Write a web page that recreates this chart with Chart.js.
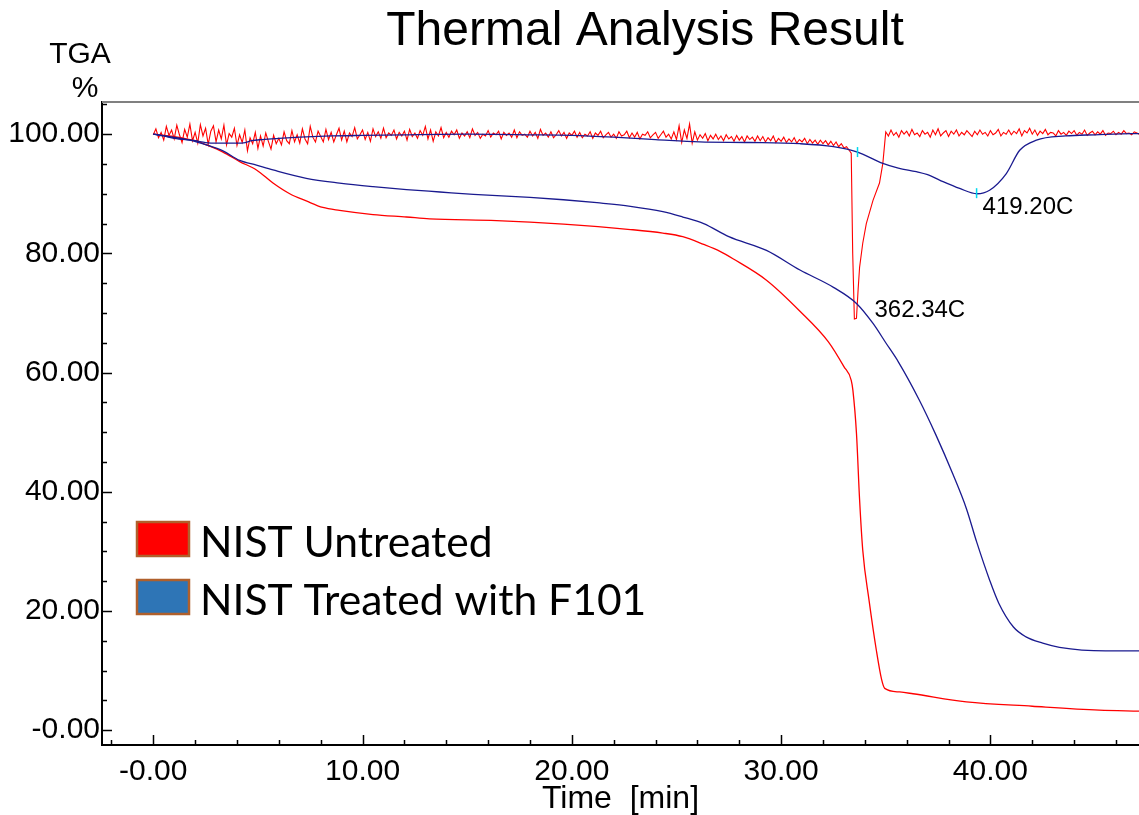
<!DOCTYPE html>
<html><head><meta charset="utf-8">
<script src="https://cdn.jsdelivr.net/npm/chart.js@4.4.1/dist/chart.umd.min.js"></script>
<style>html,body{margin:0;padding:0;background:#fff;}canvas{display:block;}</style>
</head><body>
<canvas id="c" width="1139" height="815"></canvas>
<script>
// ---- data (time in min, TGA in %) ----
const tgaRedTime = [0,1,2,2.54,3.33,4.13,4.93,5.72,6.52,7.31,8.1,8.9,10.5,12.1,13.2,16.4,19.6,22.8,24.35,25.3,26.3,27.1,27.7,29.3,30.9,32.25,33.0,33.35,33.43,33.6,33.75,33.9,34.2,34.55,34.8,34.95,35.66,36.3,38.85,42.0,45.2,47.1];
const tgaRedValue = [100.0,99.6,98.9,98.2,97.0,95.4,94.0,91.8,90.0,88.8,87.7,87.2,86.5,86.1,85.8,85.5,84.9,84.0,83.4,82.8,81.5,80.3,79.1,75.5,70.3,65.2,61.0,58.7,57.0,49.8,38.6,30.2,21.8,13.4,8.5,7.0,6.4,6.1,4.75,4.0,3.35,3.2];

const tgaBlueTime = [0,1.74,2.54,3.33,4.13,4.93,5.72,7.31,8.9,10.5,12.1,13.7,15.3,18.0,19.6,21.2,22.8,24.35,25.3,26.3,27.5,29.3,30.9,32.5,33.6,34.4,35.0,35.6,36.6,37.4,38.2,38.85,39.35,39.96,40.4,41.1,41.7,42.5,43.3,45.5,47.1];
const tgaBlueValue = [100.0,99.0,98.2,97.2,95.6,94.8,94.0,92.6,91.8,91.2,90.7,90.3,89.9,89.4,89.0,88.5,87.9,87.0,86.1,85.0,82.8,80.5,77.2,74.3,71.6,68.2,65.0,61.8,55.4,49.5,43.0,37.2,31.5,25.2,21.3,17.3,15.65,14.6,13.9,13.3,13.3];

const dtgBlueTime = [0,0.5,1,2,2.5,3,4,4.4,4.7,5.2,6,7,8.5,10,12,15,18,20,22,24,26.1,28.5,30.9,32.5,33.65,34.86,35.6,36.46,37.0,37.57,38.53,39.36,39.96,40.76,41.4,42.2,43.6,45,46.8,47.1];
const dtgBlueValue = [100.0,99.7,99.3,98.9,98.6,98.5,98.5,98.6,98.9,99.1,99.3,99.5,99.7,99.8,99.9,100.0,99.9,99.8,99.5,99.1,98.7,98.6,98.4,97.9,97.0,95.1,94.3,93.7,93.2,92.3,90.9,90.0,90.6,93.4,97.3,99.0,99.7,99.9,100.1,100.1];

const dtgRedTime = [
  0,0.125,0.25,0.375,0.5,0.625,0.75,0.875, 1,1.125,1.25,1.375,1.5,1.625,1.75,1.875,
  2,2.125,2.25,2.375,2.5,2.625,2.75,2.875, 3,3.125,3.25,3.375,3.5,3.625,3.75,3.875,
  4,4.125,4.25,4.375,4.5,4.625,4.75,4.875, 5,5.125,5.25,5.375,5.5,5.625,5.75,5.875,
  6,6.125,6.25,6.375,6.5,6.625,6.75,6.875, 7,7.125,7.25,7.375,7.5,7.625,7.75,7.875,
  8,8.125,8.25,8.375,8.5,8.625,8.75,8.875, 9,9.125,9.25,9.375,9.5,9.625,9.75,9.875,
  10,10.125,10.25,10.375,10.5,10.625,10.75,10.875, 11,11.125,11.25,11.375,11.5,11.625,11.75,11.875,
  12,12.125,12.25,12.375,12.5,12.625,12.75,12.875, 13,13.125,13.25,13.375,13.5,13.625,13.75,13.875,
  14,14.125,14.25,14.375,14.5,14.625,14.75,14.875, 15,15.125,15.25,15.375,15.5,15.625,15.75,15.875,
  16,16.125,16.25,16.375,16.5,16.625,16.75,16.875, 17,17.125,17.25,17.375,17.5,17.625,17.75,17.875,
  18,18.125,18.25,18.375,18.5,18.625,18.75,18.875, 19,19.125,19.25,19.375,19.5,19.625,19.75,19.875,
  20,20.125,20.25,20.375,20.5,20.625,20.75,20.875, 21,21.125,21.25,21.375,21.5,21.625,21.75,21.875,
  22,22.125,22.25,22.375,22.5,22.625,22.75,22.875, 23,23.125,23.25,23.375,23.5,23.625,23.75,23.875,
  24,24.125,24.25,24.375,24.5,24.625,24.75,24.875, 25,25.125,25.25,25.375,25.5,25.625,25.75,25.875,
  26,26.125,26.25,26.375,26.5,26.625,26.75,26.875, 27,27.125,27.25,27.375,27.5,27.625,27.75,27.875,
  28,28.125,28.25,28.375,28.5,28.625,28.75,28.875, 29,29.125,29.25,29.375,29.5,29.625,29.75,29.875,
  30,30.125,30.25,30.375,30.5,30.625,30.75,30.875, 31,31.125,31.25,31.375,31.5,31.625,31.75,31.875,
  32,32.125,32.25,32.375,32.5,32.625,32.75,32.875, 33,33.125,33.25,
  33.35,33.42,33.5,33.6,33.68,33.75,33.9,34.07,34.39,34.7,34.86,34.95,35.0,
  35.125,35.25,35.375,35.5,35.625,35.75,35.875,
  36,36.125,36.25,36.375,36.5,36.625,36.75,36.875, 37,37.125,37.25,37.375,37.5,37.625,37.75,37.875,
  38,38.125,38.25,38.375,38.5,38.625,38.75,38.875, 39,39.125,39.25,39.375,39.5,39.625,39.75,39.875,
  40,40.125,40.25,40.375,40.5,40.625,40.75,40.875, 41,41.125,41.25,41.375,41.5,41.625,41.75,41.875,
  42,42.125,42.25,42.375,42.5,42.625,42.75,42.875, 43,43.125,43.25,43.375,43.5,43.625,43.75,43.875,
  44,44.125,44.25,44.375,44.5,44.625,44.75,44.875, 45,45.125,45.25,45.375,45.5,45.625,45.75,45.875,
  46,46.125,46.25,46.375,46.5,46.625,46.75,46.875, 47,47.1];
const dtgRedValue = [
  99.9,100.9,99.4,100.3,99.0,101.3,99.8,100.7, 99.2,101.5,99.9,98.6,100.8,99.5,101.7,98.9,
  100.3,98.5,101.6,99.7,101.0,98.3,100.5,101.4, 98.7,100.7,99.2,101.5,98.2,100.1,99.5,101.0,
  98.1,99.9,98.6,100.7,97.2,99.4,98.4,100.3, 97.6,99.7,98.0,100.2,98.8,97.5,99.8,98.4,
  99.3,98.2,100.4,98.9,98.4,100.6,98.7,99.9, 98.5,100.9,99.2,98.4,101.3,99.5,98.7,100.5,
  99.6,98.7,100.8,99.1,100.3,98.7,99.9,101.0, 99.0,100.5,98.7,100.2,99.6,101.1,99.2,99.9,
  100.7,99.1,100.3,98.8,100.9,99.6,100.4,99.3, 101.0,99.4,100.2,99.8,100.7,99.2,100.3,99.7,
  100.5,99.0,100.8,99.6,100.2,99.3,100.6,99.8, 101.3,99.2,100.7,98.8,100.4,99.7,101.1,99.4,
  100.3,99.5,100.5,99.9,100.7,99.3,100.2,99.7, 100.4,99.4,100.9,99.8,100.3,99.3,100.0,99.7,
  100.6,99.5,100.2,99.9,100.5,99.2,100.3,99.8, 100.2,99.5,100.7,99.4,100.4,99.8,100.0,99.5,
  100.5,99.7,100.3,99.3,100.8,99.8,100.2,99.5, 100.4,99.4,99.9,100.6,99.7,100.3,99.3,100.2,
  99.8,100.5,99.5,100.3,99.4,100.0,99.7,100.4, 99.3,100.2,99.8,100.5,99.4,99.9,100.3,99.5,
  100.0,99.3,100.4,99.7,99.9,100.5,99.4,100.2, 99.5,100.3,99.2,100.0,99.8,100.4,99.4,99.9,
  100.3,99.3,99.9,100.5,99.5,100.0,99.2,100.4, 99.1,101.4,98.6,100.7,99.3,101.7,98.5,100.4,
  99.0,99.9,99.3,100.1,98.9,99.8,99.2,100.0, 99.1,99.7,98.9,99.9,99.2,99.6,98.8,99.8,
  99.0,99.6,98.7,99.7,99.1,99.5,98.8,99.7, 98.9,99.6,98.7,99.4,98.9,99.7,98.6,99.3,
  98.8,99.5,98.6,99.2,98.7,99.4,98.5,99.1, 98.7,99.3,98.4,99.1,98.5,99.0,98.3,99.0,
  98.4,98.9,98.2,98.8,98.1,98.7,97.9,98.4, 97.7,97.9,97.3,
  96.8,80.0,69.0,69.1,74.0,77.7,81.7,85.0,88.9,91.8,95.1,98.5,100.4,
  99.7,100.7,99.8,100.3,99.5,100.6,100.0,
  100.5,99.7,100.8,99.9,100.2,99.6,100.6,100.0, 100.3,99.5,100.7,99.9,100.9,99.7,100.2,100.6,
  99.6,100.5,100.0,100.7,99.7,100.3,99.9,100.6, 100.1,99.6,100.5,99.9,100.7,100.0,100.3,99.7,
  100.6,99.9,100.2,100.8,99.7,100.3,100.0,100.7, 99.9,100.5,100.1,100.9,99.7,100.6,100.2,101.0,
  100.0,100.7,99.8,100.5,100.1,100.8,99.9,100.3, 100.2,99.7,100.6,100.0,100.3,99.8,100.5,100.1,
  100.6,99.8,100.3,100.0,100.7,99.8,100.2,100.5, 99.9,100.4,100.0,100.6,99.8,100.2,100.1,100.5,
  99.9,100.3,100.0,100.6,100.1,100.2,99.9,100.4, 100.2,100.0];

const markerTimes = [33.65, 39.34];
const markerValues = [97.0, 90.1];
const peakTimes = [33.6, 39.34];
const peakValues = [69.1, 90.1];
const peakLabels = ['362.34C', '419.20C'];

const xTickValues = [0, 10, 20, 30, 40];
const xTickLabels = ['-0.00', '10.00', '20.00', '30.00', '40.00'];
const yTickValues = [0, 20, 40, 60, 80, 100];
const yTickLabels = ['-0.00', '20.00', '40.00', '60.00', '80.00', '100.00'];
const xMinorTicks = [-2,0,2,4,6,8,10,12,14,16,18,20,22,24,26,28,30,32,34,36,38,40,42,44,46];
const yMinorTicks = [0,5,10,15,20,25,30,35,40,45,50,55,60,65,70,75,80,85,90,95,100,105];
const legendLabels = ['NIST Untreated', 'NIST Treated with F101'];
const legendColors = ['#ff0000', '#2e75b6'];
const chartTitle = 'Thermal Analysis Result';

const pairs = (t, v) => t.map((x, i) => ({x, y: v[i]}));
const RED = '#ff0000', NAVY = '#1a1a8f';
const FONT = "'Liberation Sans', Arial, sans-serif";

Chart.defaults.font.family = FONT;
Chart.defaults.color = '#000';

const decor = {
  id: 'decor',
  afterDatasetsDraw(chart) {
    const {ctx, chartArea: a, scales: {x, y}} = chart;
    ctx.save();
    ctx.strokeStyle = '#808080'; ctx.lineWidth = 2;
    ctx.beginPath(); ctx.moveTo(a.left, a.top); ctx.lineTo(a.right, a.top); ctx.stroke();
    ctx.strokeStyle = '#000'; ctx.lineWidth = 1.5;
    yMinorTicks.forEach(v => {
      const p = Math.round(y.getPixelForValue(v)) + 0.5;
      const len = v % 20 === 0 ? 10 : 5;
      ctx.beginPath(); ctx.moveTo(a.left, p); ctx.lineTo(a.left + len, p); ctx.stroke();
    });
    xMinorTicks.forEach(v => {
      const p = Math.round(x.getPixelForValue(v)) + 0.5;
      const len = v % 10 === 0 ? 10 : 5;
      ctx.beginPath(); ctx.moveTo(p, a.bottom); ctx.lineTo(p, a.bottom - len); ctx.stroke();
    });
    ctx.fillStyle = '#000';
    ctx.font = '24px ' + FONT;
    ctx.textBaseline = 'alphabetic'; ctx.textAlign = 'left';
    const offs = [[18, -1], [6, 21]];
    peakLabels.forEach((t, i) => {
      const px = x.getPixelForValue(peakTimes[i]), py = y.getPixelForValue(peakValues[i]);
      ctx.fillText(t, px + offs[i][0], py + offs[i][1]);
    });
    ctx.restore();
  },
  afterDraw(chart) {
    const {ctx} = chart;
    ctx.save();
    ctx.fillStyle = '#000';
    ctx.textBaseline = 'alphabetic';
    ctx.textAlign = 'center';
    ctx.font = '48px ' + FONT;
    ctx.fillText(chartTitle, 645, 45);
    ctx.font = '30px ' + FONT;
    ctx.fillText('TGA', 80, 63);
    ctx.fillText('%', 85, 97);
    ctx.textAlign = 'left';
    let fs = 40;
    ctx.font = fs + "px Lato, 'Noto Sans', sans-serif";
    const w = ctx.measureText(legendLabels[1]).width;
    fs = fs * 446 / w;
    ctx.font = fs.toFixed(1) + "px Lato, 'Noto Sans', sans-serif";
    const tops = [522, 580];
    legendLabels.forEach((t, i) => {
      ctx.fillStyle = legendColors[i];
      ctx.fillRect(137, tops[i], 52, 34);
      ctx.strokeStyle = '#b0602c'; ctx.lineWidth = 2.5;
      ctx.strokeRect(137, tops[i], 52, 34);
      ctx.fillStyle = '#000';
      ctx.fillText(t, 200, tops[i] + 35);
    });
    ctx.restore();
  }
};

new Chart(document.getElementById('c'), {
  type: 'line',
  data: {
    datasets: [
      {label: 'marks', type: 'scatter', data: pairs(markerTimes, markerValues), pointStyle: 'line', rotation: 90, pointRadius: 5, borderColor: '#00d8ee', borderWidth: 1.5, showLine: false},
      {label: 'NIST Treated with F101 (DTG)', data: pairs(dtgBlueTime, dtgBlueValue), borderColor: NAVY, borderWidth: 1.3, cubicInterpolationMode: 'monotone'},
      {label: 'NIST Treated with F101', data: pairs(tgaBlueTime, tgaBlueValue), borderColor: NAVY, borderWidth: 1.3, cubicInterpolationMode: 'monotone'},
      {label: 'NIST Untreated (DTG)', data: pairs(dtgRedTime, dtgRedValue), borderColor: RED, borderWidth: 1.1},
      {label: 'NIST Untreated', data: pairs(tgaRedTime, tgaRedValue), borderColor: RED, borderWidth: 1.3, cubicInterpolationMode: 'monotone'}
    ]
  },
  options: {
    responsive: false, animation: false, devicePixelRatio: 1,
    layout: {autoPadding: false, padding: {top: 102, left: 0, right: 0, bottom: 0}},
    elements: {point: {radius: 0}, line: {tension: 0, fill: false}},
    plugins: {legend: {display: false}, tooltip: {enabled: false}, title: {display: false}},
    scales: {
      x: {
        type: 'linear', min: -2.45, max: 47.1,
        afterBuildTicks: s => { s.ticks = xTickValues.map(v => ({value: v})); },
        afterFit: s => { s.height = 70; s.paddingLeft = 0; s.paddingRight = 0; },
        ticks: {callback: (v, i) => xTickLabels[i], font: {size: 30}, color: '#000', padding: 9, maxRotation: 0, autoSkip: false},
        grid: {display: false, drawTicks: false},
        border: {display: true, color: '#000', width: 2},
        title: {display: true, text: 'Time  [min]', font: {size: 32, lineHeight: 1}, color: '#000', padding: {top: 0, bottom: 0}}
      },
      y: {
        type: 'linear', min: -2.5, max: 105.4,
        afterBuildTicks: s => { s.ticks = yTickValues.map(v => ({value: v})); },
        afterFit: s => { s.width = 102; s.paddingTop = 0; s.paddingBottom = 0; },
        ticks: {callback: (v, i) => yTickLabels[i], font: {size: 30}, color: '#000', padding: 2, autoSkip: false},
        grid: {display: false, drawTicks: false},
        border: {display: true, color: '#000', width: 2}
      }
    }
  },
  plugins: [decor]
});
</script>
</body></html>
